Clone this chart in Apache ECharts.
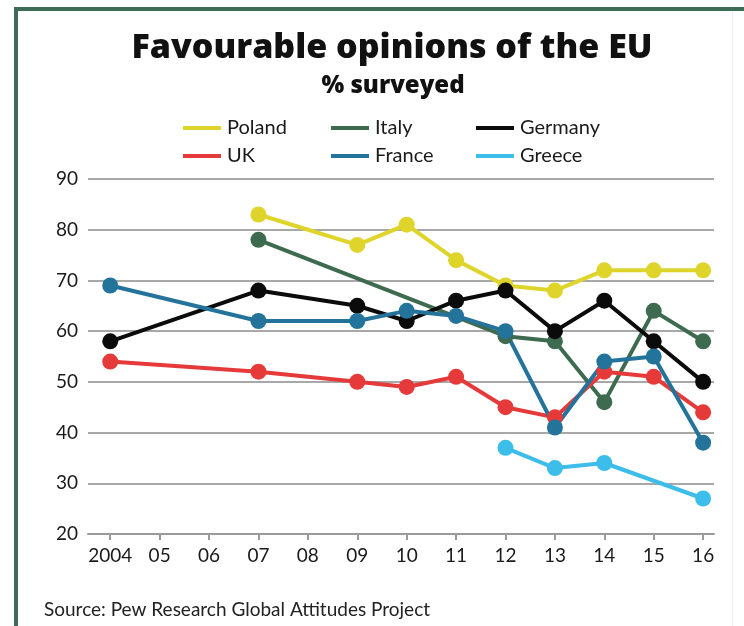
<!DOCTYPE html>
<html>
<head>
<meta charset="utf-8">
<script src="https://cdn.jsdelivr.net/npm/echarts@6/dist/echarts.min.js"></script>
<style>
  html, body { margin: 0; padding: 0; background: #ffffff; }
  #chart { width: 744px; height: 626px; }
</style>
</head>
<body>
<div id="chart"></div>
<script>
// Survey years and y-axis ticks
const years = [2004, 2005, 2006, 2007, 2008, 2009, 2010, 2011, 2012, 2013, 2014, 2015, 2016];
const yTicks = [20, 30, 40, 50, 60, 70, 80, 90];

// Favourable opinion of the EU, % surveyed (null = no survey that year)
const poland  = [null, null, null, 83, null, 77, 81, 74, 69, 68, 72, 72, 72];
const italy   = [null, null, null, 78, null, null, null, null, 59, 58, 46, 64, 58];
const germany = [58, null, null, 68, null, 65, 62, 66, 68, 60, 66, 58, 50];
const uk      = [54, null, null, 52, null, 50, 49, 51, 45, 43, 52, 51, 44];
const france  = [69, null, null, 62, null, 62, 64, 63, 60, 41, 54, 55, 38];
const greece  = [null, null, null, null, null, null, null, null, 37, 33, 34, null, 27];

const FONT = 'Lato, "DejaVu Sans", sans-serif';
const HEAD_FONT = '"Open Sans", Lato, sans-serif';

const seriesDefs = [
  { name: 'Poland',  data: poland,  color: '#ded42a' },
  { name: 'Italy',   data: italy,   color: '#3e6b4f' },
  { name: 'Germany', data: germany, color: '#0b0b0b' },
  { name: 'UK',      data: uk,      color: '#e63a3a' },
  { name: 'France',  data: france,  color: '#24739b' },
  { name: 'Greece',  data: greece,  color: '#3dbde9' }
];

function pairs(values) {
  const out = [];
  values.forEach((v, i) => { if (v !== null) out.push([years[i], v]); });
  return out;
}

const series = seriesDefs.map(s => ({
  name: s.name,
  type: 'line',
  data: pairs(s.data),
  color: s.color,
  symbol: 'circle',
  symbolSize: 16,
  lineStyle: { width: 4, color: s.color },
  itemStyle: { color: s.color },
  emphasis: { disabled: true },
  animation: false,
  z: 3
}));

function legendCol(left, names) {
  return {
    left: left,
    top: 113,
    orient: 'vertical',
    itemGap: 8,
    itemWidth: 38,
    itemHeight: 4,
    icon: 'rect',
    selectedMode: false,
    data: names,
    textStyle: { fontFamily: FONT, fontSize: 20, color: '#1a1a1a', padding: [0, 0, 0, 1] }
  };
}

const chart = echarts.init(document.getElementById('chart'), null, { renderer: 'canvas' });

chart.setOption({
  backgroundColor: '#ffffff',
  animation: false,
  title: [
    {
      text: 'Favourable opinions of the EU',
      left: 387, top: 26, textAlign: 'center',
      textStyle: { fontFamily: HEAD_FONT, fontSize: 34, fontWeight: 800, color: '#111111' }
    },
    {
      text: '% surveyed',
      left: 388, top: 69, textAlign: 'center',
      textStyle: { fontFamily: HEAD_FONT, fontSize: 24, fontWeight: 800, color: '#111111' }
    },
    {
      text: 'Source: Pew Research Global Attitudes Project',
      left: 39, top: 595,
      textStyle: { fontFamily: FONT, fontSize: 19, fontWeight: 'normal', color: '#222222' }
    }
  ],
  legend: [
    legendCol(178, ['Poland', 'UK']),
    legendCol(326, ['Italy', 'France']),
    legendCol(471, ['Germany', 'Greece'])
  ],
  grid: { left: 88, right: 30, top: 179, bottom: 92, containLabel: false },
  xAxis: {
    type: 'value',
    min: 2003.55,
    max: 2016.22,
    axisLine: { show: true, lineStyle: { color: '#9a9a9a', width: 2 } },
    axisTick: { show: true, customValues: years, length: 6, lineStyle: { color: '#9a9a9a', width: 2 } },
    axisLabel: {
      customValues: years,
      margin: 12,
      fontFamily: FONT, fontSize: 19, color: '#1a1a1a',
      formatter: v => (v === 2004 ? '2004' : String(v).slice(2))
    },
    splitLine: { show: false }
  },
  yAxis: {
    type: 'value',
    min: 20, max: 90, interval: 10,
    axisLine: { show: false },
    axisTick: { show: false },
    axisLabel: {
      margin: 10,
      fontFamily: FONT, fontSize: 19, color: '#1a1a1a',
      formatter: v => (yTicks.includes(v) ? String(v) : '')
    },
    splitLine: { show: true, lineStyle: { color: '#a8a8a8', width: 2 } }
  },
  graphic: [
    { type: 'rect', shape: { x: 14, y: 7, width: 4, height: 619 }, style: { fill: '#3d6b55' }, silent: true },
    { type: 'rect', shape: { x: 14, y: 7, width: 730, height: 4 }, style: { fill: '#3d6b55' }, silent: true },
    { type: 'rect', shape: { x: 732, y: 11, width: 1, height: 615 }, style: { fill: '#eef1ef' }, silent: true }
  ],
  series: series
});
</script>
</body>
</html>
